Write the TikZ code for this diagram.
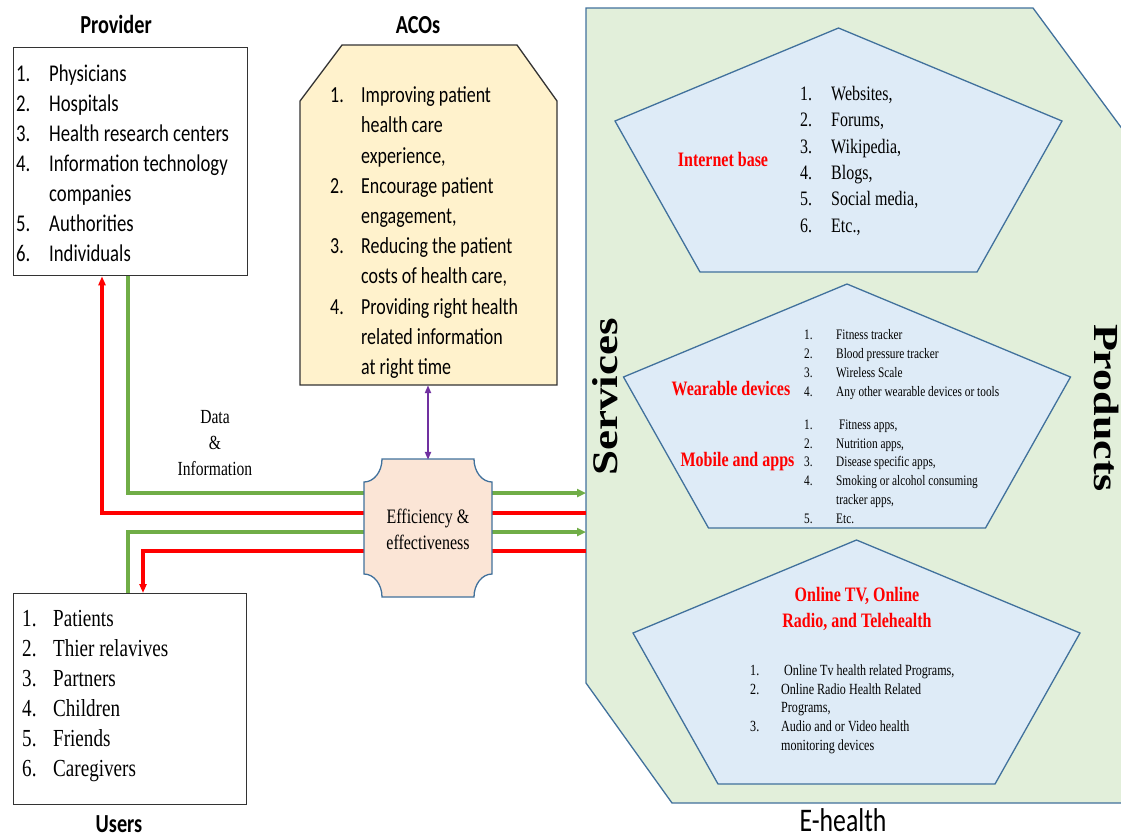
\documentclass[tikz,border=0pt]{standalone}
\usepackage{fontspec}
\setmainfont[FakeStretch=0.78]{Liberation Serif}
\newfontfamily\calfont[FakeStretch=0.78]{Carlito}
\newfontfamily\wideserif{Liberation Serif}
\usetikzlibrary{arrows.meta,calc}

\definecolor{ehgreen}{HTML}{E2EFDA}
\definecolor{pentblue}{HTML}{DEEBF7}
\definecolor{edgeblue}{HTML}{41719C}
\definecolor{acofill}{HTML}{FFF2CC}
\definecolor{efffill}{HTML}{FBE5D6}
\definecolor{flowgreen}{HTML}{70AD47}
\definecolor{flowred}{HTML}{FF0000}
\definecolor{flowpurple}{HTML}{7030A0}

\newcommand\fsz[2]{\fontsize{#1}{#2}\selectfont}
% numbered list: first column holds the number, second the item text
\newcommand\numlist[2]{\begin{tabular}{@{}p{#1}@{}l@{}}#2\end{tabular}}

\begin{document}
\begin{tikzpicture}[x=1pt,y=-1pt,
  title/.style={font=\calfont\bfseries\fsz{26}{30}, inner sep=0},
  listbox/.style={draw=black!80, line width=1.3pt, fill=white, inner sep=0},
  listtext/.style={inner sep=0, anchor=west},
  greenflow/.style={draw=flowgreen, line width=3.3pt, -{Triangle[length=9pt,width=8pt]}},
  redflow/.style={draw=flowred, line width=3.6pt, -{Triangle[length=9pt,width=7pt]}},
  purpleflow/.style={draw=flowpurple, line width=2.2pt, {Triangle[length=8pt,width=6pt]}-{Triangle[length=8pt,width=6pt]}},
  ehealth/.style={draw=edgeblue, line width=1.3pt, fill=ehgreen},
  pentshape/.style={draw=edgeblue, line width=1.3pt, fill=pentblue},
  redhead/.style={text=flowred, font=\bfseries\fsz{20.5}{25.5}, inner sep=0, align=center},
  pentagon/.pic={\draw[pentshape] (0,0) -- (223.5,93) -- (138.5,244) -- (-138.5,244) -- (-223.5,93) -- cycle;}
]
\useasboundingbox (0,0) rectangle (1121,839);
\clip (0,0) rectangle (1121,839);

% ---------- E-health region ----------
\draw[ehealth] (586,8) -- (1033,8) -- (1140,153) -- (1140,803) -- (672,803) -- (586,683) -- cycle;
\node[font=\calfont\fsz{33}{36}, inner sep=0] (ehtitle) at (843,820) {E-health};

\node[rotate=90, inner sep=0] (services) at (605,397)
  {\wideserif\bfseries\fsz{45}{45}\scalebox{1}[0.8]{Services}};
\node[rotate=-90, inner sep=0] (products) at (1106,408)
  {\wideserif\bfseries\fsz{44}{44}\scalebox{1}[0.8]{Products}};

% Internet based services
\pic at (838.5,28) {pentagon};
\node[redhead] (inet) at (723,159) {Internet base};
\node[listtext, font=\fsz{20.5}{26.4}] (inetlist) at (800,161) {\numlist{31pt}{%
  1.&Websites,\\2.&Forums,\\3.&Wikipedia,\\4.&Blogs,\\5.&Social media,\\6.&Etc.,}};

% Wearables and mobile apps
\pic at (847,284) {pentagon};
\node[redhead] (wear) at (731,389) {Wearable devices};
\node[listtext, font=\fsz{14.5}{19}] (wearlist) at (804,364) {\numlist{32pt}{%
  1.&Fitness tracker\\2.&Blood pressure tracker\\3.&Wireless Scale\\4.&Any other wearable devices or tools}};
\node[redhead] (mobile) at (737.5,462) {Mobile and apps};
\node[listtext, font=\fsz{14.5}{18.8}] (mobilelist) at (804,472.5) {\numlist{32pt}{%
  1.&\ Fitness apps,\\2.&Nutrition apps,\\3.&Disease specific apps,\\4.&Smoking or alcohol consuming\\&tracker apps,\\5.&Etc.}};

% Online TV, radio and telehealth
\pic at (856.5,540) {pentagon};
\node[redhead] (tele) at (857,609) {Online TV, Online\\Radio, and Telehealth};
\node[listtext, font=\fsz{15.5}{18.75}] (telelist) at (750,709) {\numlist{31pt}{%
  1.&\ Online Tv health related Programs,\\2.&Online Radio Health Related\\&Programs,\\3.&Audio and or Video health\\&monitoring devices}};

% ---------- Provider ----------
\node[title] (provtitle) at (116,24) {Provider};
\node[listbox, minimum width=234, minimum height=228, anchor=north west] (prov) at (13,47) {};
\node[listtext, font=\calfont\fsz{24}{30}] (provlist) at (16,165) {\numlist{33pt}{%
  1.&Physicians\\2.&Hospitals\\3.&Health research centers\\4.&Information technology\\&companies\\5.&Authorities\\6.&Individuals}};

% ---------- Users ----------
\node[listbox, minimum width=233, minimum height=211, anchor=north west] (users) at (13,593) {};
\node[listtext, font=\fsz{24.5}{30}] (userlist) at (22,695) {\numlist{31pt}{%
  1.&Patients\\2.&Thier relavives\\3.&Partners\\4.&Children\\5.&Friends\\6.&Caregivers}};
\node[title] (usertitle) at (119,824) {Users};

% ---------- Data flows ----------
\coordinate (g1) at (586,493);
\coordinate (r1) at (586,513);
\coordinate (g2) at (586,532);
\coordinate (r2) at (586,551);
\draw[greenflow] ($(prov.south west)+(115,0)$) |- (g1);
\draw[redflow] (r1) -| ($(prov.south west)+(89,0)$);
\draw[greenflow] ($(users.north west)+(115,0)$) |- (g2);
\draw[redflow] (r2) -| ($(users.north west)+(130,0)$);

\node[font=\fsz{20}{26}, align=center, inner sep=0] (datainfo) at (215,443) {Data\\\&\\Information};

% ---------- ACOs ----------
\node[title] (acotitle) at (418,25) {ACOs};
\path[draw=black!80, line width=1.3pt, fill=acofill]
  (342,45) -- (517,45) -- (557,101) -- (557,385) -- (300,385) -- (300,101) -- cycle;
\node[minimum width=257, minimum height=340, inner sep=0] (aco) at (428,215) {};
\node[listtext, font=\calfont\fsz{23}{30.2}] (acolist) at (330,232.5) {\numlist{31pt}{%
  1.&Improving patient\\&health care\\&experience,\\2.&Encourage patient\\&engagement,\\
  3.&Reducing the patient\\&costs of health care,\\4.&Providing right health\\&related information\\&at right time}};

% ---------- Efficiency & effectiveness ----------
\path[draw=edgeblue, line width=1.3pt, fill=efffill]
  (382,459) -- (474,459)
  arc[start angle=180, end angle=90, x radius=18, y radius=23] -- (492,574)
  arc[start angle=270, end angle=180, x radius=18, y radius=23] -- (382,597)
  arc[start angle=0, end angle=-90, x radius=18, y radius=23] -- (364,482)
  arc[start angle=90, end angle=0, x radius=18, y radius=23] -- cycle;
\node[minimum width=128, minimum height=138, inner sep=0, font=\fsz{20.5}{26}, align=center] (eff) at (428,529)
  {Efficiency \&\\effectiveness};

\draw[purpleflow] (aco.south) -- (eff.north);
\end{tikzpicture}
\end{document}
